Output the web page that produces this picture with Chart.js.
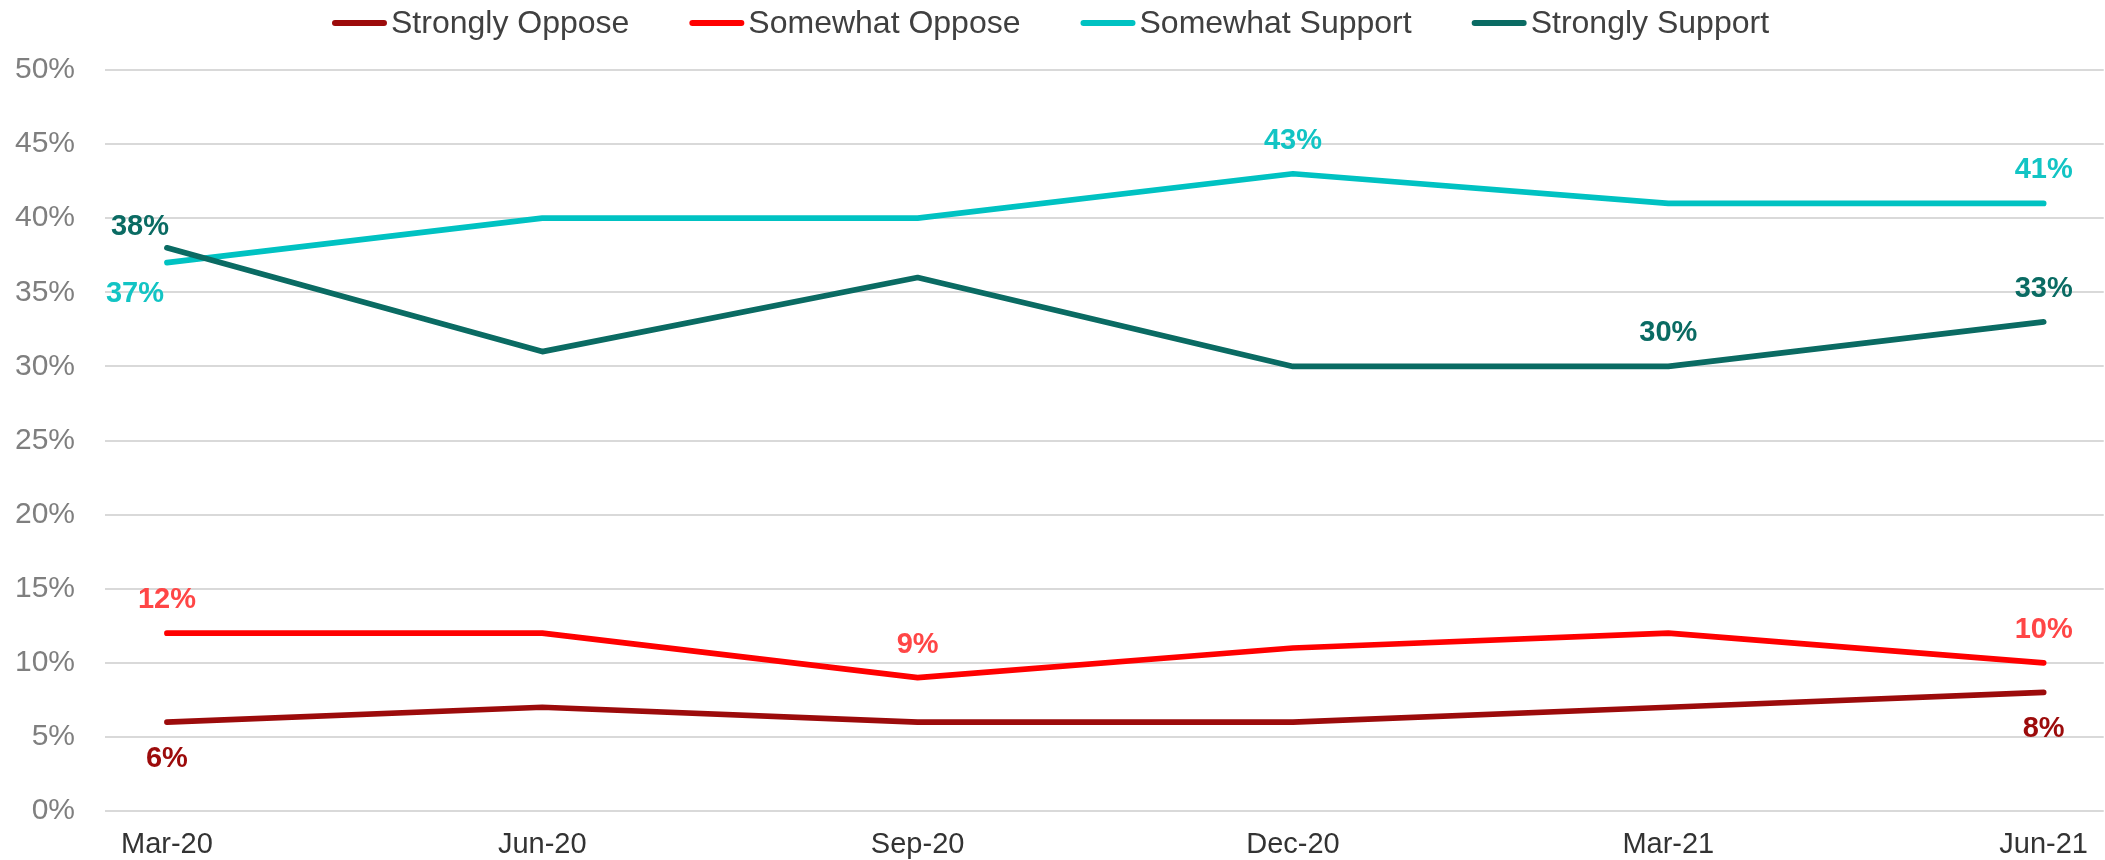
<!DOCTYPE html>
<html>
<head>
<meta charset="utf-8">
<script src="https://cdn.jsdelivr.net/npm/chart.js@4"></script>
<style>
  html, body { margin: 0; padding: 0; background: #fff; }
  #wrap { width: 2105px; height: 860px; }
</style>
</head>
<body>
<div id="wrap"><canvas id="chart" width="2105" height="860"></canvas></div>
<script>
// ─── Data ────────────────────────────────────────
const months          = ["Mar-20", "Jun-20", "Sep-20", "Dec-20", "Mar-21", "Jun-21"];
const seriesNames     = ["Strongly Oppose", "Somewhat Oppose", "Somewhat Support", "Strongly Support"];
const stronglyOppose  = [6, 7, 6, 6, 7, 8];
const somewhatOppose  = [12, 12, 9, 11, 12, 10];
const somewhatSupport = [37, 40, 40, 43, 41, 41];
const stronglySupport = [38, 31, 36, 30, 30, 33];

// where a value label is shown for each point (null = no label)
const stronglyOpposeTags  = ["below", null, null, null, null, "below"];
const somewhatOpposeTags  = ["above", null, "above", null, null, "above"];
const somewhatSupportTags = ["belowLeft", null, null, "above", null, "above"];
const stronglySupportTags = ["aboveLeft", null, null, null, "above", "above"];

// ─── Styling ─────────────────────────────────────
const FONT = "'Liberation Sans', Arial, sans-serif";
const lineColors  = ["#9c0b0b", "#ff0000", "#00c2c2", "#0a6b63"];
const labelColors = ["#9c0b0b", "#ff4646", "#12c4c4", "#0a6b63"];
const allValues = [stronglyOppose, somewhatOppose, somewhatSupport, stronglySupport];
const allTags   = [stronglyOpposeTags, somewhatOpposeTags, somewhatSupportTags, stronglySupportTags];

const tagOffset = {
    above:     [0, -33],
    below:     [0, 37],
    aboveLeft: [-27, -21],
    belowLeft: [-32, 31]
};

// value labels drawn next to selected points
const valueLabels = {
    id: "valueLabels",
    afterDatasetsDraw(chart) {
        const ctx = chart.ctx;
        ctx.save();
        ctx.font = "bold 29px " + FONT;
        ctx.textAlign = "center";
        ctx.textBaseline = "middle";
        chart.data.datasets.forEach((ds, di) => {
            const meta = chart.getDatasetMeta(di);
            allTags[di].forEach((tag, i) => {
                if (!tag) return;
                const pt = meta.data[i];
                const [dx, dy] = tagOffset[tag];
                ctx.fillStyle = labelColors[di];
                ctx.fillText(allValues[di][i] + "%", pt.x + dx, pt.y + dy);
            });
        });
        ctx.restore();
    }
};

// legend row at the top: short line sample then the series name
const topLegend = {
    id: "topLegend",
    afterDraw(chart) {
        const ctx = chart.ctx;
        const sample = 55, gap = 4, spacing = 60, y = 23;
        ctx.save();
        ctx.font = "32px " + FONT;
        ctx.textBaseline = "middle";
        const widths = seriesNames.map(n => ctx.measureText(n).width);
        const total = widths.reduce((s, w) => s + w + sample + gap, 0) + spacing * (seriesNames.length - 1);
        let x = chart.width / 2 - total / 2 - 2;
        seriesNames.forEach((name, i) => {
            ctx.strokeStyle = lineColors[i];
            ctx.lineWidth = 6;
            ctx.lineCap = "round";
            ctx.beginPath();
            ctx.moveTo(x + 3, y);
            ctx.lineTo(x + sample - 3, y);
            ctx.stroke();
            ctx.fillStyle = "#404040";
            ctx.fillText(name, x + sample + gap, y + 1);
            x += sample + gap + widths[i] + spacing;
        });
        ctx.restore();
    }
};

// ─── Chart ───────────────────────────────────────
const datasets = seriesNames.map((name, i) => ({
    label: name,
    data: allValues[i].map((v, k) => ({ x: k, y: v })),
    borderColor: lineColors[i],
    backgroundColor: lineColors[i],
    borderWidth: 5.7,
    borderCapStyle: "round",
    borderJoinStyle: "round",
    pointRadius: 0,
    tension: 0,
    fill: false,
    order: seriesNames.length - 1 - i
}));

new Chart(document.getElementById("chart"), {
    type: "line",
    data: { datasets },
    plugins: [valueLabels, topLegend],
    options: {
        responsive: false,
        devicePixelRatio: 1,
        animation: false,
        layout: { padding: { top: 70, right: 0, bottom: 0, left: 0 } },
        plugins: { legend: { display: false }, tooltip: { enabled: false } },
        scales: {
            x: {
                type: "linear",
                min: -0.165,
                max: 5.16,
                afterBuildTicks: axis => { axis.ticks = months.map((m, i) => ({ value: i })); },
                afterFit: axis => { axis.height = 49; },
                grid: { display: false, drawTicks: false },
                border: { display: false },
                ticks: {
                    autoSkip: false,
                    maxRotation: 0,
                    padding: 17,
                    color: "#333333",
                    font: { family: FONT, size: 29 },
                    callback: v => months[v]
                }
            },
            y: {
                min: 0,
                max: 50,
                afterFit: axis => { axis.width = 105; },
                grid: { color: "#d9d9d9", lineWidth: 2, drawTicks: false },
                border: { display: false },
                ticks: {
                    stepSize: 5,
                    padding: 30,
                    color: "#7f7f7f",
                    font: { family: FONT, size: 30 },
                    callback: v => v + "%"
                }
            }
        }
    }
});
</script>
</body>
</html>
